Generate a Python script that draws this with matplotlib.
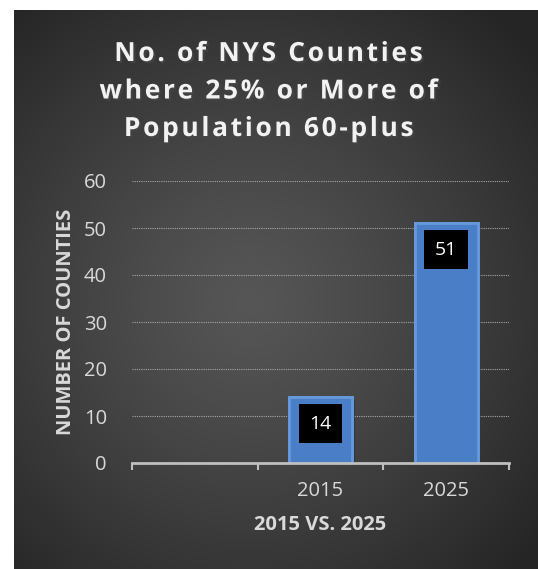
import numpy as np
import matplotlib.pyplot as plt
import matplotlib.patheffects as pe

# datos
categorias = ["", "2015", "2025"]
valores = [np.nan, 14, 51]
titulo = ["No. of NYS Counties", "where 25% or More of", "Population 60-plus"]
etiqueta_y = "NUMBER OF COUNTIES"
etiqueta_x = "2015 VS. 2025"

W, H = 538, 569
fig = plt.figure(figsize=(W / 100, H / 100), dpi=100)
fig.patch.set_facecolor("white")

# fondo oscuro con degradado radial
ax_bg = fig.add_axes([14 / W, 0, 1 - 14 / W, 1 - 10 / H])
ax_bg.set_axis_off()
yy, xx = np.mgrid[0:1:300j, 0:1:300j]
r = np.sqrt((xx - 0.45) ** 2 + ((yy - 0.48) * 1.05) ** 2)
r = np.clip(r / 0.72, 0, 1)
claro, oscuro = 0x56, 0x25
g = (claro + (oscuro - claro) * r ** 1.2) / 255.0
img = np.dstack([g, g, g])
ax_bg.imshow(img, extent=[0, 1, 0, 1], aspect="auto", origin="lower")
ax_bg.set_xlim(0, 1)
ax_bg.set_ylim(0, 1)

gris = "#d9d9d9"
fuente = "Open Sans"

# título con espaciado entre letras (espacio fino)
espaciado = "\u200a"
titulo_esp = "\n".join(espaciado.join(linea) for linea in titulo)
fig.text(
    268 / W, 1 - 91 / H, titulo_esp,
    ha="center", va="center", color="#f2f2f2", fontsize=19, fontweight="bold",
    family=[fuente, "DejaVu Sans"], linespacing=1.5,
    path_effects=[pe.withSimplePatchShadow(offset=(1.5, -1.5), alpha=0.6)],
)

ax = fig.add_axes([132 / W, 1 - 463 / H, (509 - 132) / W, (463 - 181) / H])
ax.set_facecolor("none")
x = np.arange(len(categorias))
barras = ax.bar(
    x, valores, width=0.5, color="#4a7fc8", edgecolor="#6699dc", linewidth=2,
    zorder=3,
)
for b in barras:
    b.set_path_effects([pe.withSimplePatchShadow(offset=(2, -2), alpha=0.4),
                        pe.Normal()])

for xi, v in zip(x, valores):
    if np.isnan(v):
        continue
    ax.annotate(
        f"{int(v)}",
        xy=(xi, v), xytext=(0, -19), textcoords="offset points",
        ha="center", va="center", color="white", fontsize=14, family=fuente,
        bbox=dict(boxstyle="square,pad=0.55", fc="black", ec="none"),
        zorder=5,
    )

ax.set_xlim(-0.5, 2.5)
ax.set_ylim(0, 60)
ax.set_yticks(range(0, 61, 10))
ax.set_xticks(x)
ax.set_xticklabels(categorias)
ax.set_xticks(np.arange(-0.5, 3, 1), minor=True)
ax.tick_params(axis="x", which="major", length=0, pad=13, labelsize=14.5,
               labelcolor=gris)
ax.tick_params(axis="x", which="minor", length=5, width=1.5, color="#bfbfbf",
               direction="out")
ax.tick_params(axis="y", length=0, pad=18, labelsize=14.5, labelcolor=gris)
for lbl in ax.get_xticklabels() + ax.get_yticklabels():
    lbl.set_family(fuente)

ax.grid(axis="y", color="#a6a6a6", linestyle=(0, (1, 1)), linewidth=0.8,
        zorder=1)
for s in ["top", "right", "left"]:
    ax.spines[s].set_visible(False)
ax.spines["bottom"].set_color("#bfbfbf")
ax.spines["bottom"].set_linewidth(2)
ax.spines["bottom"].set_zorder(4)

ax.set_ylabel(etiqueta_y, color=gris, fontsize=14.5, fontweight="bold",
              family=fuente, labelpad=6)
ax.set_xlabel(etiqueta_x, color=gris, fontsize=14.5, fontweight="bold",
              family=fuente, labelpad=10)

fig.savefig("out.png", dpi=100)
